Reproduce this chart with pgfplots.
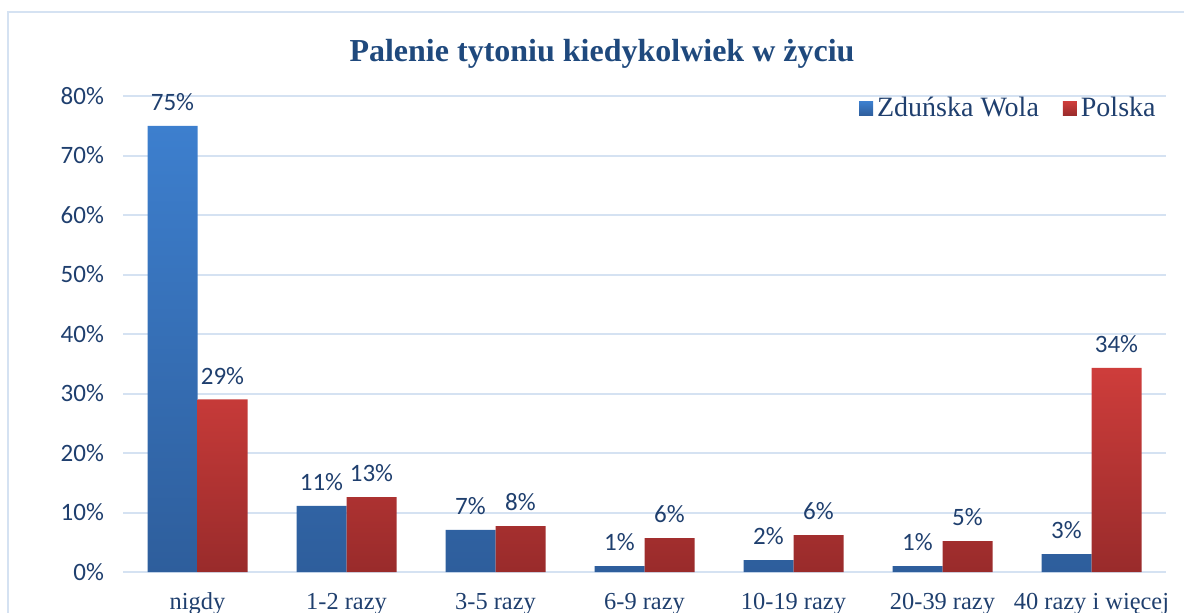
\documentclass[border=0pt]{standalone}
\usepackage{pgfplots}
\pgfplotsset{compat=1.18}
\usepackage{fontspec}
\setmainfont{Liberation Serif}
\newfontfamily\calibri{Carlito}
\definecolor{blueT}{HTML}{3D7FCE}
\definecolor{blueB}{HTML}{2E5E9C}
\definecolor{redT}{HTML}{CE3D3B}
\definecolor{redB}{HTML}{992B2B}
\definecolor{txt}{HTML}{1F3F6E}
\definecolor{ttl}{HTML}{1F497D}
\definecolor{gridc}{HTML}{D5E2F2}
\begin{document}
\begin{tikzpicture}
\useasboundingbox (0,0) rectangle (592pt,306pt);
\clip (0,0) rectangle (592pt,306pt);
\draw[gridc, line width=1pt] (4pt,-10pt) rectangle (620pt,300pt);
\node[font=\fontsize{16}{19}\selectfont\bfseries, text=ttl] at (301pt,279pt) {Palenie tytoniu kiedykolwiek w życiu};
\begin{axis}[
  at={(61.5pt,20pt)}, anchor=south west,
  scale only axis, width=521.5pt, height=238pt,
  ybar=0pt, bar width=25pt,
  xmin=-0.5, xmax=6.5, ymin=0, ymax=80,
  xtick=data,
  xticklabels={nigdy,1-2 razy,3-5 razy,6-9 razy,10-19 razy,20-39 razy,40 razy i więcej},
  xticklabel style={font=\fontsize{12.2}{14}\selectfont, text=txt, yshift=-7pt},
  ytick={0,10,...,80},
  yticklabels={0\%,10\%,20\%,30\%,40\%,50\%,60\%,70\%,80\%},
  yticklabel style={font=\calibri\fontsize{12.5}{15}\selectfont, text=txt, xshift=-6pt},
  major tick length=0pt,
  ymajorgrids, xmajorgrids=false,
  grid style={draw=gridc, line width=1pt},
  axis line style={draw=none},
  axis x line*=bottom, x axis line style={draw=gridc, line width=1pt},
  axis y line*=left, y axis line style={draw=none},
  /pgf/number format/assume math mode=true,
  nodes near coords={\pgfmathprintnumber[fixed,precision=0]{\pgfplotspointmeta}\%},
  every node near coord/.append style={font=\calibri\fontsize{12.5}{15}\selectfont, text=txt, yshift=4pt},
  legend columns=2,
  legend style={draw=none, fill=none, at={(1,1.015)}, anchor=north east,
    font=\fontsize{14}{16}\selectfont, text=txt,
    /tikz/every even column/.append style={column sep=10pt}},
  legend image code/.code={\fill[#1] (0pt,-3.5pt) rectangle (7pt,3.5pt);},
]
\addplot[draw=none, top color=blueT, bottom color=blueB] coordinates {
  (0,75) (1,11.1) (2,7.1) (3,1.0) (4,2.0) (5,1.0) (6,3.0)};
\addplot[draw=none, top color=redT, bottom color=redB] coordinates {
  (0,29) (1,12.6) (2,7.7) (3,5.7) (4,6.2) (5,5.2) (6,34.3)};
\legend{Zduńska Wola, Polska}
\end{axis}
\end{tikzpicture}
\end{document}
